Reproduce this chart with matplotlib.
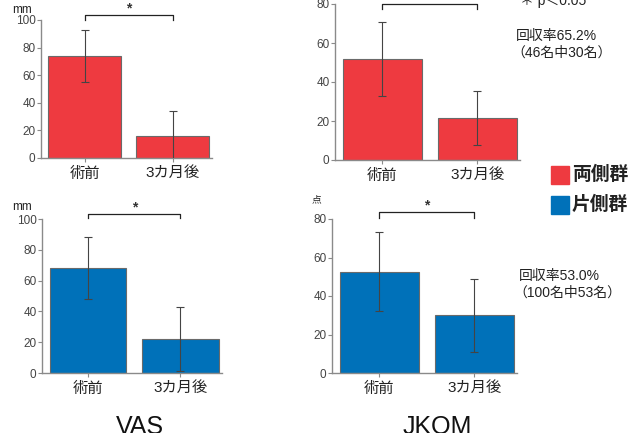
import matplotlib
matplotlib.use("Agg")
import matplotlib.pyplot as plt
from matplotlib.patches import Rectangle

plt.rcParams['font.family'] = ['Liberation Sans', 'Noto Sans CJK JP', 'DejaVu Sans']

categories = ["術前", "3カ月後"]
vas_both = [74, 16]
vas_both_sd = [19, 18]
jkom_both = [52, 21.5]
jkom_both_sd = [19, 14]
vas_one = [68, 22]
vas_one_sd = [20, 21]
jkom_one = [52.5, 30]
jkom_one_sd = [20.5, 19]

RED = "#EE3A40"
BLUE = "#0071B9"

W, H = 632, 433
fig = plt.figure(figsize=(W / 100, H / 100), dpi=100)


def make_ax(left, right, top, bottom):
    return fig.add_axes([left / W, 1 - bottom / H, (right - left) / W, (bottom - top) / H])


def panel(ax, vals, sds, color, ymax, yticks, bracket_y, bracket_low):
    x = [0, 1]
    ax.bar(x, vals, width=0.83, color=color, edgecolor="#6a6a6a", linewidth=0.8, zorder=2)
    ax.errorbar(x, vals, yerr=sds, fmt="none", ecolor="#444444", elinewidth=0.8,
                capsize=3, capthick=0.8, zorder=3)
    ax.set_xlim(-0.5, 1.45)
    ax.set_ylim(0, ymax)
    ax.set_yticks(yticks)
    ax.set_xticks(x)
    ax.set_xticklabels(categories, fontsize=11, color="#222222")
    for s in ["top", "right"]:
        ax.spines[s].set_visible(False)
    for s in ["left", "bottom"]:
        ax.spines[s].set_color("#8a8a8a")
        ax.spines[s].set_linewidth(1.0)
    ax.tick_params(axis="y", labelsize=8.5, colors="#8a8a8a", labelcolor="#444444", length=3, pad=1)
    ax.tick_params(axis="x", colors="#8a8a8a", labelcolor="#222222", length=3, pad=3)
    ax.plot([0, 0, 1, 1], [bracket_low, bracket_y, bracket_y, bracket_low], color="#222222",
            lw=0.9, clip_on=False, zorder=4)
    ax.text(0.5, bracket_y, "*", ha="center", va="bottom", fontsize=10, fontweight="bold",
            color="#333333", clip_on=False)


ax1 = make_ax(41, 212, 20, 158)
panel(ax1, vas_both, vas_both_sd, RED, 100, [0, 20, 40, 60, 80, 100], 103.6, 100)
ax2 = make_ax(335, 520, 4, 160)
panel(ax2, jkom_both, jkom_both_sd, RED, 80, [0, 20, 40, 60, 80], 79.8, 77.4)
ax3 = make_ax(42, 222, 219, 373)
panel(ax3, vas_one, vas_one_sd, BLUE, 100, [0, 20, 40, 60, 80, 100], 103.2, 100.5)
ax4 = make_ax(332, 517, 219, 373)
panel(ax4, jkom_one, jkom_one_sd, BLUE, 80, [0, 20, 40, 60, 80], 83.6, 80.5)


def ftext(x, y, s, **kw):
    fig.text(x / W, 1 - y / H, s, **kw)


ftext(12, 10, "mm", fontsize=8.5, color="#222222", va="center")
ftext(12, 207, "mm", fontsize=8.5, color="#222222", va="center")
ftext(312, 199, "点", fontsize=7, color="#222222", va="center")
ftext(520, 1, "＊ p＜0.05", fontsize=10, color="#222222", va="center")
ftext(516, 36, "回収率65.2%", fontsize=10, color="#222222", va="center")
ftext(511, 53, "（46名中30名）", fontsize=10, color="#222222", va="center")
ftext(519, 276, "回収率53.0%", fontsize=10, color="#222222", va="center")
ftext(513, 293, "（100名中53名）", fontsize=10, color="#222222", va="center")
ftext(140, 427, "VAS", fontsize=18, color="#111111", ha="center", va="center")
ftext(437, 427, "JKOM", fontsize=18, color="#111111", ha="center", va="center")

for (y, col, lab) in [(175, RED, "両側群"), (205, BLUE, "片側群")]:
    fig.patches.append(Rectangle((551 / W, 1 - (y + 9) / H), 18 / W, 18 / H,
                                 transform=fig.transFigure, color=col))
    ftext(572, y, lab, fontsize=13.5, fontweight="bold", color="#222222", va="center")

fig.savefig("out.png", dpi=100)
